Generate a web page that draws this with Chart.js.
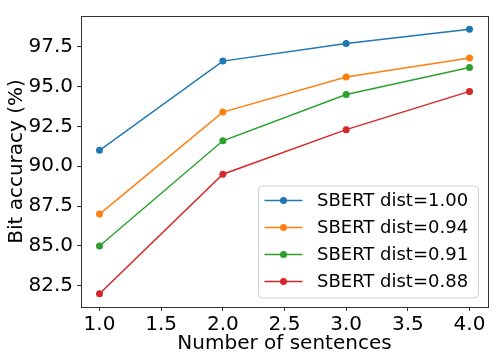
<!DOCTYPE html>
<html>
<head>
<meta charset="utf-8">
<script src="https://cdn.jsdelivr.net/npm/chart.js@4"></script>
<style>
  body { margin: 0; background: #fff; }
  #wrap { width: 498px; height: 363px; }
</style>
</head>
<body>
<div id="wrap"><canvas id="myChart" width="498" height="363"></canvas></div>
<script>
// data
var sentences = [1, 2, 3, 4];
var dist100 = [91.0, 96.6, 97.7, 98.6];
var dist094 = [87.0, 93.4, 95.6, 96.8];
var dist091 = [85.0, 91.6, 94.5, 96.2];
var dist088 = [82.0, 89.5, 92.3, 94.7];
var seriesNames = ['SBERT dist=1.00', 'SBERT dist=0.94', 'SBERT dist=0.91', 'SBERT dist=0.88'];
var colors = ['#1f77b4', '#ff7f0e', '#2ca02c', '#d62728'];

var font = "'DejaVu Sans', sans-serif";

function pts(vals) {
    return sentences.map(function (x, i) { return {x: x, y: vals[i]}; });
}

var datasets = [dist100, dist094, dist091, dist088].map(function (vals, i) {
    return {
        label: seriesNames[i],
        data: pts(vals),
        borderColor: colors[i],
        backgroundColor: colors[i],
        borderWidth: 1.5,
        pointRadius: 3.5,
        pointHoverRadius: 3.5,
        pointBorderWidth: 0,
        tension: 0
    };
});

// frame round the plot area, like matplotlib spines
var boxPlugin = {
    id: 'box',
    afterDraw: function (chart) {
        var c = chart.ctx, a = chart.chartArea;
        c.save();
        c.strokeStyle = '#333';
        c.lineWidth = 1;
        c.strokeRect(Math.round(a.left) + 0.5, Math.round(a.top) + 0.5,
            Math.round(a.right - a.left), Math.round(a.bottom - a.top));
        c.restore();
    }
};

// legend in the lower right corner
var legendPlugin = {
    id: 'innerLegend',
    afterDraw: function (chart) {
        var c = chart.ctx, a = chart.chartArea;
        var w = 220, h = 112;
        var x = a.right - 9.5 - w, y = a.bottom - 9 - h;
        c.save();
        c.beginPath();
        c.roundRect(x, y, w, h, 4);
        c.fillStyle = 'rgba(255,255,255,0.8)';
        c.fill();
        c.strokeStyle = '#d0d0d0';
        c.lineWidth = 1;
        c.stroke();
        c.font = '18px ' + font;
        c.textBaseline = 'middle';
        chart.data.datasets.forEach(function (ds, i) {
            var ry = y + 14.5 + i * 27;
            c.strokeStyle = ds.borderColor;
            c.lineWidth = 1.5;
            c.beginPath();
            c.moveTo(x + 6, ry);
            c.lineTo(x + 44, ry);
            c.stroke();
            c.fillStyle = ds.borderColor;
            c.beginPath();
            c.arc(x + 25, ry, 3.5, 0, Math.PI * 2);
            c.fill();
            c.fillStyle = '#000';
            c.fillText(ds.label, x + 58.5, ry + 1);
        });
        c.restore();
    }
};

var ctx = document.getElementById('myChart').getContext('2d');
var chart = new Chart(ctx, {
    type: 'line',
    data: { datasets: datasets },
    options: {
        responsive: false,
        animation: false,
        layout: { padding: { left: 5, right: 10, top: 10, bottom: 7 } },
        plugins: { legend: { display: false }, tooltip: { enabled: false } },
        scales: {
            x: {
                type: 'linear',
                min: 0.85,
                max: 4.15,
                afterFit: function (s) { s.height = 49; },
                ticks: {
                    stepSize: 0.5,
                    includeBounds: false,
                    color: '#000',
                    padding: 2,
                    maxRotation: 0,
                    font: { family: font, size: 20 },
                    callback: function (v) { return v.toFixed(1); }
                },
                grid: { drawOnChartArea: false, tickLength: 4, color: '#333' },
                border: { display: false },
                title: {
                    display: true,
                    text: 'Number of sentences',
                    color: '#000',
                    font: { family: font, size: 20 },
                    padding: { top: 0, bottom: 0 }
                }
            },
            y: {
                min: 81.17,
                max: 99.43,
                afterFit: function (s) { s.width = 76; },
                ticks: {
                    stepSize: 2.5,
                    includeBounds: false,
                    color: '#000',
                    padding: 4,
                    font: { family: font, size: 20 },
                    callback: function (v) { return v.toFixed(1); }
                },
                grid: { drawOnChartArea: false, tickLength: 4, color: '#333' },
                border: { display: false },
                title: {
                    display: true,
                    text: 'Bit accuracy (%)',
                    color: '#000',
                    font: { family: font, size: 20 },
                    padding: { top: 0, bottom: 2 }
                }
            }
        }
    },
    plugins: [boxPlugin, legendPlugin]
});
</script>
</body>
</html>
